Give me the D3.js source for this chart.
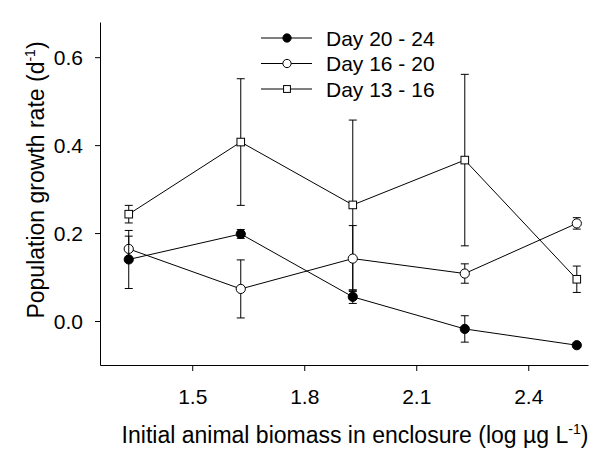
<!DOCTYPE html>
<html><head><meta charset="utf-8">
<script src="https://cdn.jsdelivr.net/npm/d3@7"></script>
<style>body{margin:0;background:#fff;} text{font-family:"Liberation Sans",Arial,sans-serif;fill:#000;}</style>
</head><body><svg id="c" width="590" height="449"></svg>
<script>
const xValues = [1.33, 1.63, 1.93, 2.23, 2.53];
const seriesNames = ["Day 20 - 24", "Day 16 - 20", "Day 13 - 16"];
const day20_24 = [0.140, 0.198, 0.055, -0.018, -0.055];
const day20_24Err = [0.066, 0.010, 0.015, 0.030, 0.005];
const day16_20 = [0.164, 0.073, 0.142, 0.108, 0.222];
const day16_20Err = [0.029, 0.066, 0.075, 0.022, 0.013];
const day13_16 = [0.243, 0.407, 0.264, 0.366, 0.095];
const day13_16Err = [0.020, 0.144, 0.193, 0.195, 0.030];
const xTicks = [1.5, 1.8, 2.1, 2.4];
const yTicks = [0.0, 0.2, 0.4, 0.6];

(function(){
const svg = d3.select("#c");
const mLeft = 100, mRight = 588, mTop = 22, mBottom = 365;
const fs = 21, fsTitle = 23;
const x = d3.scaleLinear().domain([1.253, 2.560]).range([mLeft, mRight]);
const y = d3.scaleLinear().domain([-0.1, 0.68]).range([mBottom, mTop]);

const xAxis = svg.append("g").attr("transform", `translate(0,${mBottom})`)
  .call(d3.axisBottom(x).tickValues(xTicks).tickFormat(d3.format(".1f")).tickSize(6).tickSizeOuter(0));
const yAxis = svg.append("g").attr("transform", `translate(${mLeft},0)`)
  .call(d3.axisLeft(y).tickValues(yTicks).tickFormat(d3.format(".1f")).tickSize(5).tickSizeOuter(0));
[xAxis, yAxis].forEach(a => {
  a.select(".domain").attr("stroke", "#000").attr("stroke-width", 1);
  a.selectAll(".tick line").attr("stroke", "#000");
  a.selectAll("text").attr("font-size", fs).attr("font-family", "Liberation Sans, Arial, sans-serif").attr("fill", "#000");
});
xAxis.selectAll(".tick text").attr("dy", "0").attr("y", 38.5);
yAxis.selectAll(".tick text").attr("x", -17).attr("dy", "0.36em");

const xt = svg.append("text").attr("x", 355).attr("y", 443).attr("text-anchor", "middle").attr("font-size", fsTitle);
xt.append("tspan").text("Initial animal biomass in enclosure (log µg L");
xt.append("tspan").attr("dy", -9).attr("font-size", 14).text("-1");
xt.append("tspan").attr("dy", 9).text(")");
const yt = svg.append("text").attr("transform", "translate(44,180) rotate(-90)").attr("text-anchor", "middle").attr("font-size", fsTitle);
yt.append("tspan").text("Population growth rate (d");
yt.append("tspan").attr("dy", -9).attr("font-size", 14).text("-1");
yt.append("tspan").attr("dy", 9).text(")");

const series = [
  {name: seriesNames[0], vals: day20_24, err: day20_24Err, type: "circle", fill: "#000"},
  {name: seriesNames[1], vals: day16_20, err: day16_20Err, type: "circle", fill: "#fff"},
  {name: seriesNames[2], vals: day13_16, err: day13_16Err, type: "square", fill: "#fff"}
];
const line = d3.line().x(d => x(d.x)).y(d => y(d.y));

function marker(g, type, fill, cx, cy, sc) {
  sc = sc || 1;
  if (type === "circle") {
    g.append("circle").attr("cx", cx).attr("cy", cy).attr("r", 4.6 * sc).attr("fill", fill).attr("stroke", "#000").attr("stroke-width", 1);
  } else {
    const h = 3.8 * sc;
    g.append("rect").attr("x", cx - h).attr("y", cy - h).attr("width", 2 * h).attr("height", 2 * h).attr("fill", fill).attr("stroke", "#000").attr("stroke-width", 1);
  }
}

series.slice().reverse().forEach(s => {
  const g = svg.append("g");
  const pts = xValues.map((xv, i) => ({x: xv, y: s.vals[i], e: s.err[i]}));
  pts.forEach(p => {
    g.append("line").attr("x1", x(p.x)).attr("x2", x(p.x)).attr("y1", y(p.y - p.e)).attr("y2", y(p.y + p.e)).attr("stroke", "#000");
    [p.y - p.e, p.y + p.e].forEach(v => g.append("line").attr("x1", x(p.x) - 4).attr("x2", x(p.x) + 4).attr("y1", y(v)).attr("y2", y(v)).attr("stroke", "#000"));
  });
  g.append("path").datum(pts).attr("d", line).attr("fill", "none").attr("stroke", "#000").attr("stroke-width", 1);
  pts.forEach(p => marker(g, s.type, s.fill, x(p.x), y(p.y)));
});

const legY = [38, 63.5, 89];
series.forEach((s, i) => {
  const g = svg.append("g");
  g.append("line").attr("x1", 261).attr("x2", 312).attr("y1", legY[i]).attr("y2", legY[i]).attr("stroke", "#000");
  marker(g, s.type, s.fill, 287, legY[i], 0.9);
  g.append("text").attr("x", 326).attr("y", legY[i]).attr("dy", "0.36em").attr("font-size", fs).text(s.name);
});
})();
</script></body></html>
